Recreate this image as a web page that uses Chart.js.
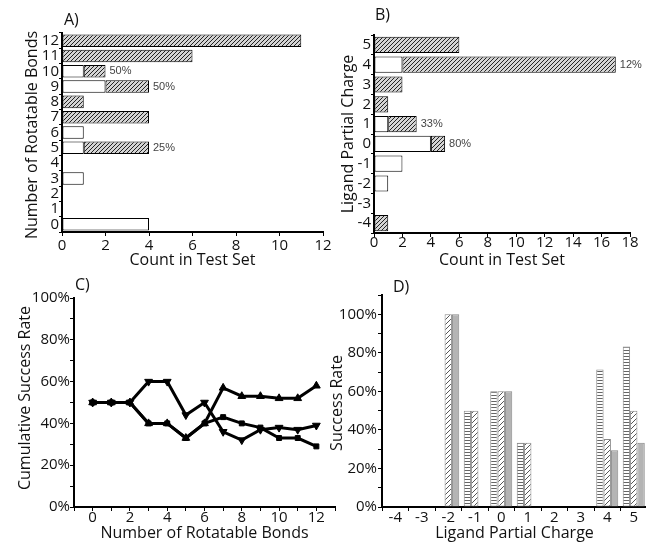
<!DOCTYPE html>
<html>
<head>
<meta charset="utf-8">
<script src="https://cdn.jsdelivr.net/npm/chart.js@4"></script>
<style>
html, body { margin: 0; padding: 0; background: #fff; overflow: hidden; }
#wrap { position: relative; width: 646px; height: 546px; overflow: hidden; }
canvas { position: absolute; }
</style>
</head>
<body>
<div id="wrap">
  <canvas id="chartA" width="340" height="275" style="left:0;top:0"></canvas>
  <canvas id="chartB" width="326" height="275" style="left:320px;top:0"></canvas>
  <canvas id="chartC" width="345" height="276" style="left:0;top:270px"></canvas>
  <canvas id="chartD" width="330" height="276" style="left:320px;top:270px"></canvas>
</div>
<script>
// A) counts by number of rotatable bonds (white = success, hatched = failure)
var bondLabels = ['0','1','2','3','4','5','6','7','8','9','10','11','12'];
var bondSuccess = [4, 0, 0, 1, 0, 1, 1, 0, 0, 2, 1, 0, 0];
var bondFail    = [0, 0, 0, 0, 0, 3, 0, 4, 1, 2, 1, 6, 11];
var bondPct     = ['', '', '', '', '', '25%', '', '', '', '50%', '50%', '', ''];

// B) counts by ligand partial charge
var chargeLabels = ['-4','-3','-2','-1','0','1','2','3','4','5'];
var chargeSuccess = [0, 0, 1, 2, 4, 1, 0, 0, 2, 0];
var chargeFail    = [1, 0, 0, 0, 1, 2, 1, 2, 15, 6];
var chargePct     = ['', '', '', '', '80%', '33%', '', '', '12%', ''];

// C) cumulative success rate (%) vs rotatable bonds
var cBonds   = [0, 1, 2, 3, 4, 5, 6, 7, 8, 9, 10, 11, 12];
var cSquare  = [50, 50, 50, 40, 40, 33, 40, 43, 40, 38, 33, 33, 29];
var cTriUp   = [50, 50, 50, 40, 40, 33, 40, 57, 53, 53, 52, 52, 58];
var cTriDown = [50, 50, 50, 60, 60, 44, 50, 36, 32, 37, 38, 37, 39];

// D) success rate (%) by ligand partial charge
var dLined = [0, 0, 0, 50, 60, 33.3, 0, 0, 71.4, 83.3];
var dHatch = [0, 0, 100, 50, 60, 33.3, 0, 0, 35.3, 50];
var dGray  = [0, 0, 100, 0, 60, 0, 0, 0, 29.4, 33.3];

var FONT = '"Open Sans", sans-serif';

function makePattern(bg, fg, size, kind) {
    var c = document.createElement('canvas');
    c.width = size; c.height = size;
    var g = c.getContext('2d');
    g.fillStyle = bg;
    g.fillRect(0, 0, size, size);
    g.strokeStyle = fg;
    g.lineWidth = 1;
    g.beginPath();
    if (kind === 'diag') {
        g.moveTo(0, size); g.lineTo(size, 0);
        g.moveTo(-1, 1); g.lineTo(1, -1);
        g.moveTo(size - 1, size + 1); g.lineTo(size + 1, size - 1);
    } else {
        g.moveTo(0, size - 0.5); g.lineTo(size, size - 0.5);
    }
    g.stroke();
    return g.createPattern(c, 'repeat');
}

var hatchAB = makePattern('#d4d4d4', '#222', 4, 'diag');
var hatchD = makePattern('#fff', '#555', 5, 'diag');
var linedD = makePattern('#fff', '#666', 3, 'lines');

function fixWidth(w) { return function(scale) { scale.width = w; }; }
function fixHeight(h) { return function(scale) { scale.height = h; }; }

// panel letter, rotated y title and the percentage notes at the bar ends
var panelText = {
    id: 'panelText',
    afterDraw: function(chart, args, opts) {
        var ctx = chart.ctx;
        ctx.save();
        ctx.font = '16px ' + FONT;
        ctx.fillStyle = '#111';
        ctx.textBaseline = 'alphabetic';
        ctx.fillText(opts.text, opts.x, opts.y);

        ctx.save();
        ctx.translate(opts.ytx, opts.yty);
        ctx.rotate(-Math.PI / 2);
        ctx.textAlign = 'center';
        ctx.textBaseline = 'middle';
        ctx.fillText(opts.ytitle, 0, 0);
        ctx.restore();

        if (opts.pct) {
            var meta = chart.getDatasetMeta(chart.data.datasets.length - 1);
            ctx.font = '11px "Liberation Sans", Arial, sans-serif';
            ctx.fillStyle = '#444';
            ctx.textBaseline = 'middle';
            opts.pct.forEach(function(t, i) {
                if (!t) return;
                var el = meta.data[i];
                ctx.fillText(t, el.x + 4, el.y);
            });
        }
        ctx.restore();
    }
};

function axisBase() {
    return {
        grid: { drawOnChartArea: false, drawTicks: true, tickLength: 4, tickColor: '#000', color: '#000' },
        border: { display: true, color: '#000', width: 2 },
        ticks: { color: '#111', padding: 0, autoSkip: false, maxRotation: 0, font: { family: FONT, size: 15 } }
    };
}

function withAxis(extra) {
    var a = axisBase();
    for (var k in extra) {
        if (typeof extra[k] === 'object' && a[k] && !Array.isArray(extra[k])) {
            a[k] = Object.assign({}, a[k], extra[k]);
        } else {
            a[k] = extra[k];
        }
    }
    return a;
}

function hBarChart(id, labels, success, fail, pct, xmax, area, letter) {
    var cv = document.getElementById(id);
    return new Chart(cv, {
        type: 'bar',
        data: {
            labels: labels,
            datasets: [{
                data: success,
                backgroundColor: '#fff',
                borderColor: '#000',
                borderWidth: 1,
                borderSkipped: false,
                barPercentage: 0.82,
                categoryPercentage: 1
            }, {
                data: fail,
                backgroundColor: hatchAB,
                borderColor: '#000',
                borderWidth: 1,
                borderSkipped: false,
                barPercentage: 0.82,
                categoryPercentage: 1
            }]
        },
        options: {
            indexAxis: 'y',
            responsive: false,
            animation: false,
            layout: { padding: { top: area.top, left: 0, right: cv.width - area.right, bottom: 0 } },
            plugins: {
                legend: { display: false },
                tooltip: { enabled: false },
                panelText: letter
            },
            scales: {
                x: withAxis({
                    type: 'linear',
                    stacked: true,
                    min: 0,
                    max: xmax,
                    ticks: { stepSize: 2, padding: area.xPad, autoSkip: false, color: '#111', font: { family: FONT, size: 15 } },
                    title: { display: true, text: 'Count in Test Set', color: '#111',
                             font: { family: FONT, size: 16 },
                             padding: { top: 0, bottom: cv.height - area.xTitle - 9.6 } },
                    afterFit: fixHeight(cv.height - area.bottom)
                }),
                y: withAxis({
                    stacked: true,
                    reverse: true,
                    grid: { drawOnChartArea: false, tickLength: 3, tickColor: '#000', color: '#000' },
                    ticks: { padding: 0, autoSkip: false, color: '#111', font: { family: FONT, size: 15 } },
                    afterFit: fixWidth(area.left)
                })
            }
        },
        plugins: [panelText]
    });
}

hBarChart('chartA', bondLabels, bondSuccess, bondFail, bondPct, 12,
    { left: 62, right: 323, top: 33, bottom: 232, xTitle: 260, xPad: 1 },
    { text: 'A)', x: 64, y: 25, ytitle: 'Number of Rotatable Bonds', ytx: 32, yty: 135, pct: bondPct });

hBarChart('chartB', chargeLabels, chargeSuccess, chargeFail, chargePct, 18,
    { left: 54, right: 310, top: 35, bottom: 233, xTitle: 260, xPad: -3 },
    { text: 'B)', x: 55, y: 20, ytitle: 'Ligand Partial Charge', ytx: 28, yty: 134, pct: chargePct });

// C) line chart
new Chart(document.getElementById('chartC'), {
    type: 'line',
    data: {
        labels: cBonds,
        datasets: [
            { data: cSquare, pointStyle: 'rect', pointRadius: 3.5 },
            { data: cTriUp, pointStyle: 'triangle', pointRadius: 4.5 },
            { data: cTriDown, pointStyle: 'triangle', pointRotation: 180, pointRadius: 4.5 }
        ].map(function(d) {
            return Object.assign({
                borderColor: '#000', backgroundColor: '#000', borderWidth: 3,
                pointBackgroundColor: '#000', pointBorderColor: '#000', pointBorderWidth: 1,
                tension: 0, fill: false
            }, d);
        })
    },
    options: {
        responsive: false,
        animation: false,
        layout: { padding: { top: 28, left: 0, right: 345 - 335, bottom: 0 } },
        plugins: {
            legend: { display: false },
            tooltip: { enabled: false },
            panelText: { text: 'C)', x: 75, y: 20, ytitle: 'Cumulative Success Rate', ytx: 25, yty: 128 }
        },
        scales: {
            x: withAxis({
                type: 'linear',
                min: -1,
                max: 13,
                ticks: {
                    stepSize: 1, padding: -2, autoSkip: false, color: '#111', font: { family: FONT, size: 15 },
                    callback: function(v) { return (v >= 0 && v <= 12 && v % 2 === 0) ? String(v) : ''; }
                },
                title: { display: true, text: 'Number of Rotatable Bonds', color: '#111',
                         font: { family: FONT, size: 16 }, padding: { top: 0, bottom: 3.4 } },
                afterFit: fixHeight(276 - 237)
            }),
            y: withAxis({
                min: 0,
                max: 100,
                ticks: {
                    stepSize: 10, padding: 0, autoSkip: false, color: '#111', font: { family: FONT, size: 15 },
                    callback: function(v) { return v % 20 === 0 ? v + '%' : ''; }
                },
                afterFit: fixWidth(74)
            })
        }
    },
    plugins: [panelText]
});

// D) grouped bars
new Chart(document.getElementById('chartD'), {
    type: 'bar',
    data: {
        labels: chargeLabels,
        datasets: [
            { data: dLined, backgroundColor: linedD },
            { data: dHatch, backgroundColor: hatchD },
            { data: dGray, backgroundColor: '#b4b4b4' }
        ].map(function(d) {
            return Object.assign({
                borderColor: '#888', borderWidth: 1, borderSkipped: false,
                barPercentage: 1, categoryPercentage: 0.83
            }, d);
        })
    },
    options: {
        responsive: false,
        animation: false,
        layout: { padding: { top: 25, left: 0, right: 330 - 327, bottom: 0 } },
        plugins: {
            legend: { display: false },
            tooltip: { enabled: false },
            panelText: { text: 'D)', x: 73, y: 22, ytitle: 'Success Rate', ytx: 17, yty: 133 }
        },
        scales: {
            x: withAxis({
                ticks: { padding: -2, autoSkip: false, color: '#111', font: { family: FONT, size: 15 } },
                title: { display: true, text: 'Ligand Partial Charge', color: '#111',
                         font: { family: FONT, size: 16 }, padding: { top: 0, bottom: 3.4 } },
                afterFit: fixHeight(276 - 237)
            }),
            y: withAxis({
                min: 0,
                max: 110,
                ticks: {
                    stepSize: 10, padding: 1, autoSkip: false, color: '#111', font: { family: FONT, size: 15 },
                    callback: function(v) { return (v % 20 === 0 && v <= 100) ? v + '%' : ''; }
                },
                afterFit: fixWidth(62)
            })
        }
    },
    plugins: [panelText]
});
</script>
</body>
</html>
